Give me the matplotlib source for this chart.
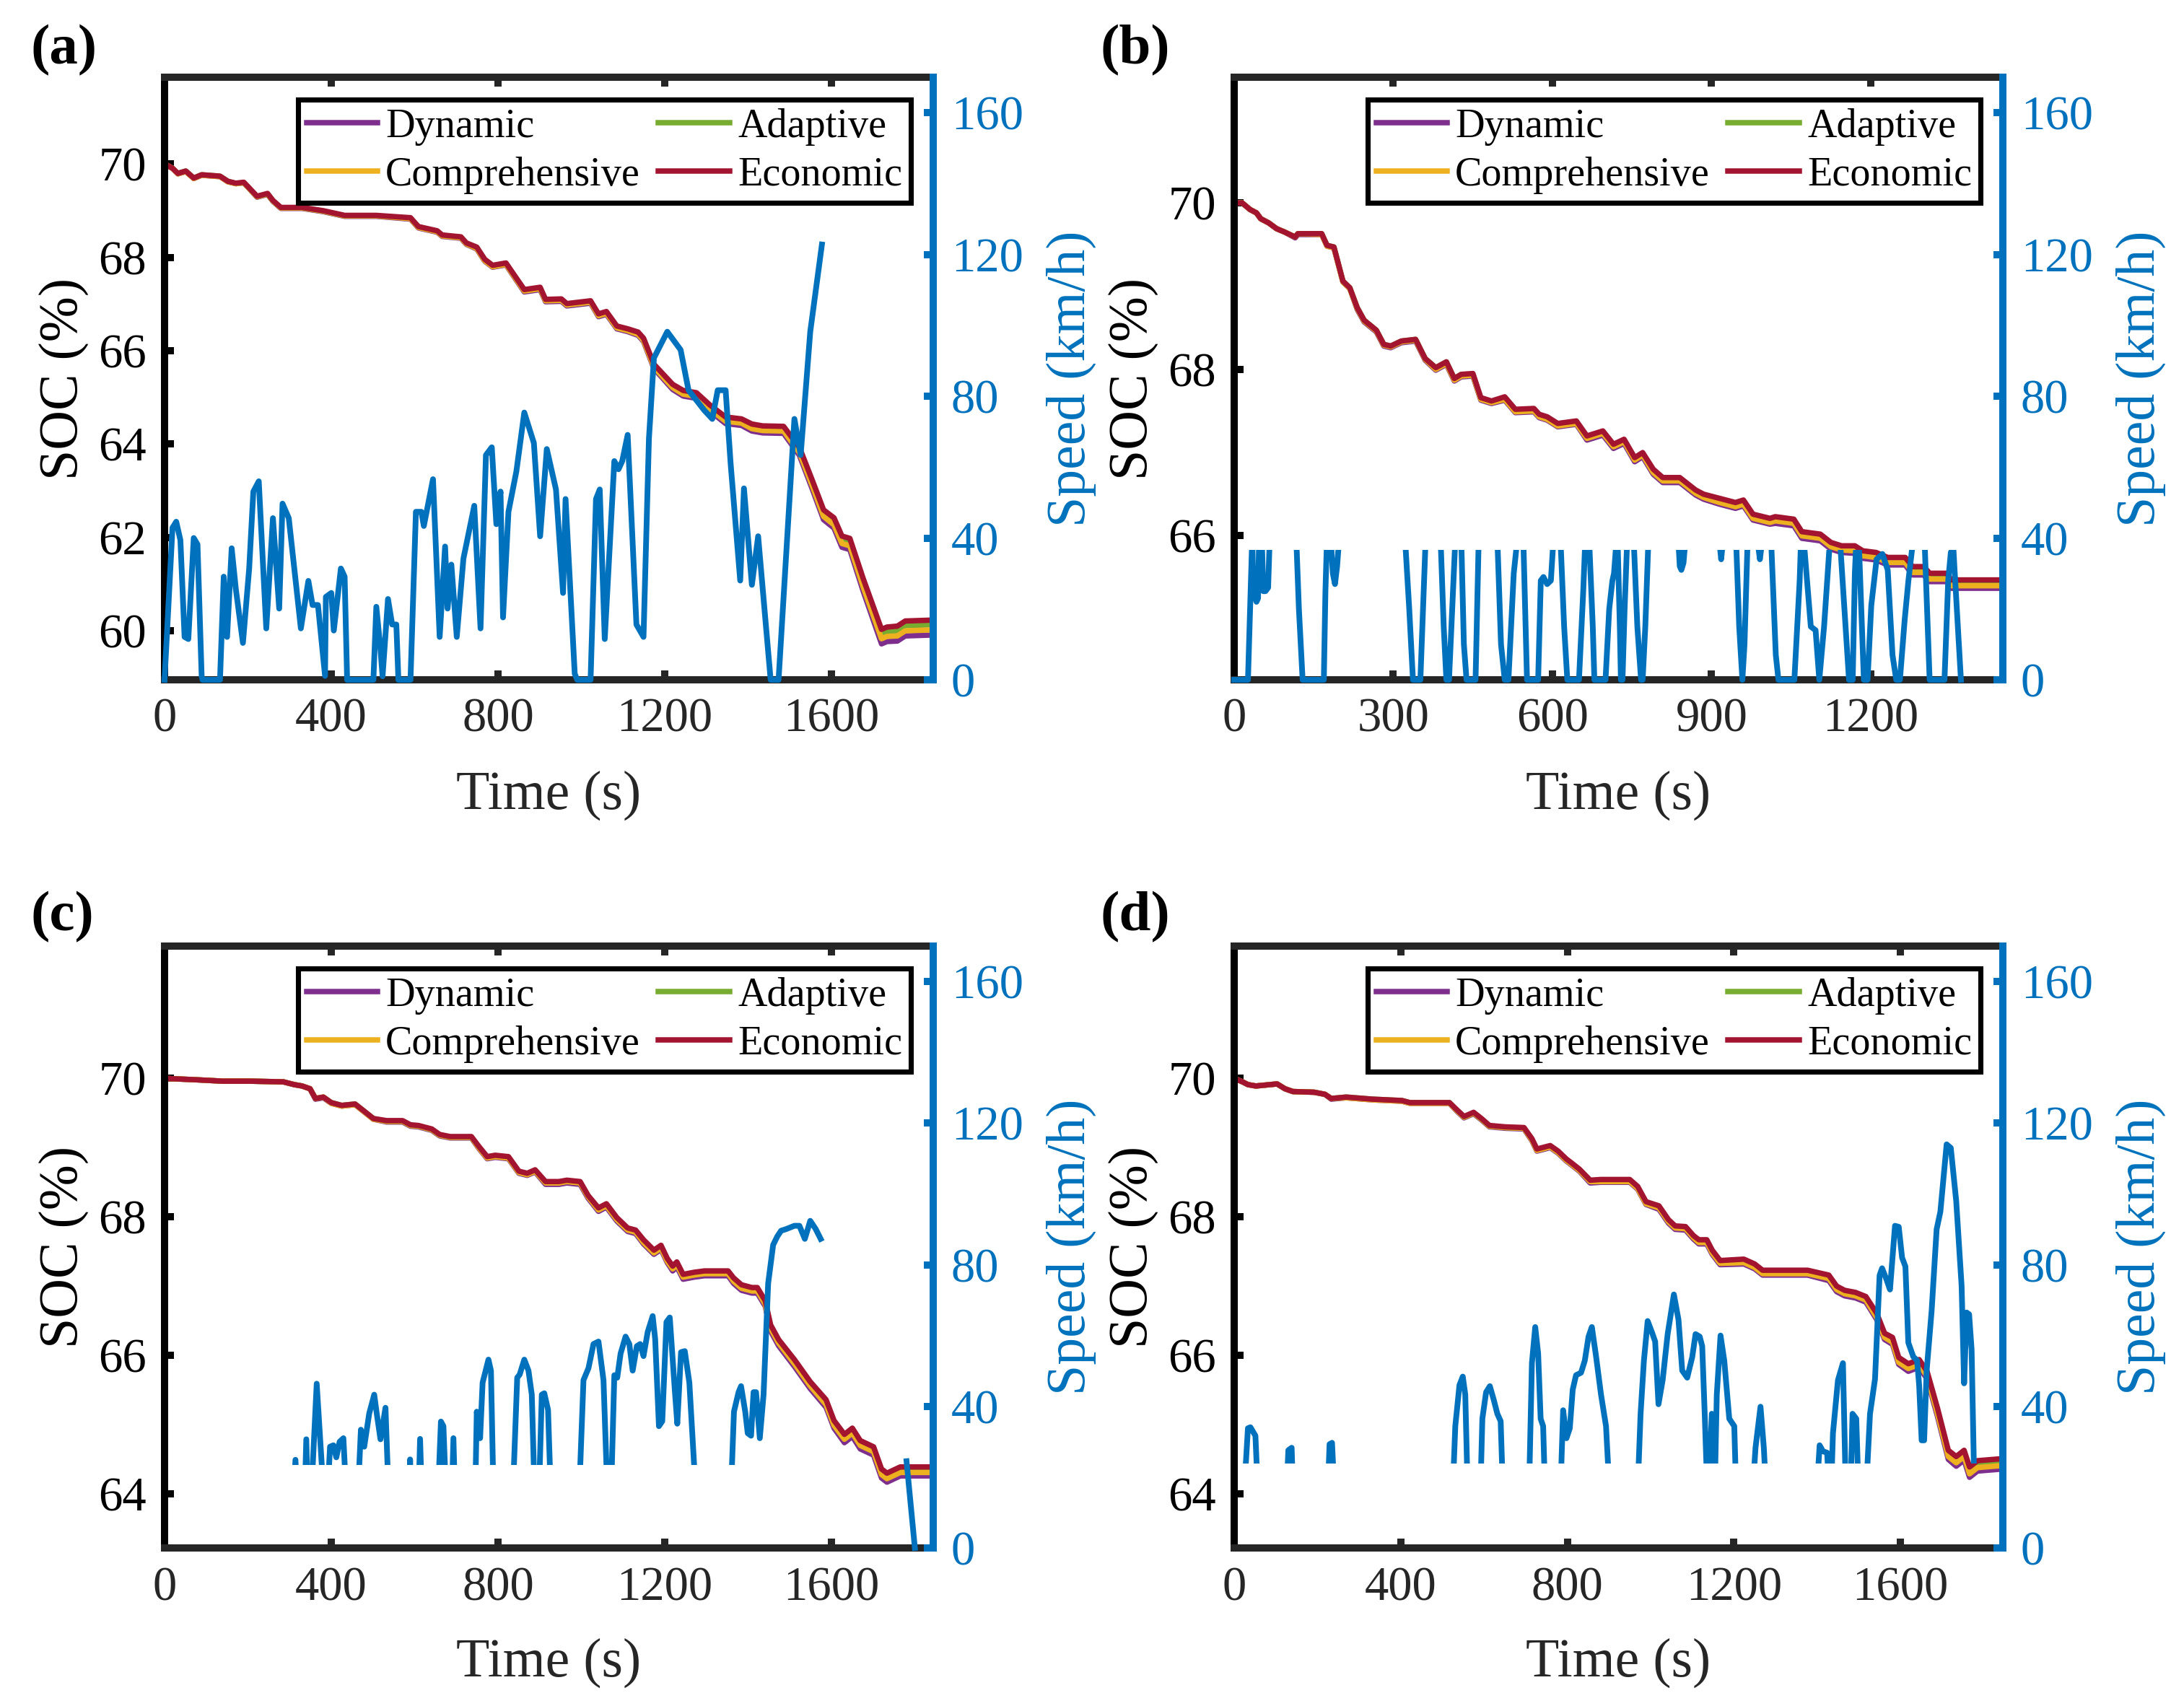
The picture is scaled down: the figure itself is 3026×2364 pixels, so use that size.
import matplotlib.pyplot as plt
from matplotlib.patches import Rectangle

plt.rcParams["font.family"] = ["Liberation Serif", "DejaVu Serif"]

BLUE = "#0072BD"
DARK = "#262626"
SERIES = ["Dynamic", "Adaptive", "Comprehensive", "Economic"]
COLORS = ["#7E2F8E", "#77AC30", "#EDB120", "#A2142F"]

# ---------------- panel (a) ----------------
time_a = [0, 19, 32, 51, 70, 89, 133, 152, 171, 190,
          222, 247, 260, 279, 330, 381, 432, 508, 590, 609,
          654, 666, 711, 724, 749, 768, 787, 819, 863, 901,
          914, 952, 965, 1022, 1041, 1060, 1085, 1111, 1136, 1149,
          1174, 1219, 1244, 1276, 1308, 1346, 1384, 1409, 1435, 1485,
          1523, 1555, 1581, 1606, 1625, 1644, 1676, 1720, 1733, 1758,
          1777, 1844]
econ_a = [70.0, 69.91, 69.80, 69.85, 69.70, 69.77, 69.74, 69.63, 69.59, 69.61,
          69.31, 69.37, 69.22, 69.07, 69.07, 69.0, 68.90, 68.90, 68.85, 68.66,
          68.57, 68.48, 68.44, 68.31, 68.22, 67.96, 67.83, 67.88, 67.31, 67.36,
          67.10, 67.11, 67.01, 67.07, 66.79, 66.84, 66.53, 66.47, 66.40, 66.27,
          65.71, 65.28, 65.15, 65.10, 64.84, 64.58, 64.54, 64.43, 64.39, 64.38,
          63.93, 63.20, 62.59, 62.42, 62.03, 61.98, 61.12, 60.03, 60.08, 60.10,
          60.21, 60.23]
# how far each strategy sits below the Economic curve
gap_dyn_a = [0, 0, 0.01, 0.01, 0.01, 0.01, 0.01, 0.01, 0.01, 0.01,
             0.02, 0.02, 0.02, 0.02, 0.02, 0.02, 0.02, 0.02, 0.03, 0.03,
             0.03, 0.03, 0.03, 0.03, 0.04, 0.04, 0.04, 0.04, 0.05, 0.05,
             0.05, 0.05, 0.05, 0.05, 0.06, 0.06, 0.06, 0.06, 0.07, 0.07,
             0.09, 0.11, 0.12, 0.12, 0.13, 0.14, 0.14, 0.15, 0.15, 0.15,
             0.17, 0.19, 0.21, 0.22, 0.24, 0.24, 0.27, 0.31, 0.31, 0.32,
             0.32, 0.32]
gap_comp_a = [0, 0, 0.01, 0.01, 0.01, 0.01, 0.01, 0.01, 0.01, 0.01,
              0.01, 0.01, 0.01, 0.01, 0.01, 0.01, 0.01, 0.01, 0.02, 0.02,
              0.02, 0.02, 0.02, 0.02, 0.03, 0.03, 0.03, 0.03, 0.03, 0.03,
              0.03, 0.03, 0.03, 0.03, 0.04, 0.04, 0.04, 0.04, 0.05, 0.05,
              0.06, 0.07, 0.08, 0.08, 0.09, 0.09, 0.09, 0.10, 0.10, 0.10,
              0.11, 0.12, 0.14, 0.15, 0.16, 0.16, 0.18, 0.20, 0.20, 0.21,
              0.21, 0.21]
gap_adapt_a = [0, 0, 0, 0, 0, 0, 0, 0, 0.01, 0.01,
               0.01, 0.01, 0.01, 0.01, 0.01, 0.01, 0.01, 0.01, 0.01, 0.01,
               0.01, 0.01, 0.01, 0.01, 0.01, 0.01, 0.01, 0.01, 0.02, 0.02,
               0.02, 0.02, 0.02, 0.02, 0.02, 0.02, 0.02, 0.02, 0.02, 0.02,
               0.03, 0.04, 0.04, 0.04, 0.04, 0.05, 0.05, 0.05, 0.05, 0.05,
               0.06, 0.06, 0.07, 0.07, 0.08, 0.08, 0.09, 0.10, 0.10, 0.10,
               0.10, 0.10]
speed_a = [(0, 0), (19, 42.9), (28, 44.6), (38, 39.4), (48, 12.1), (57, 11.5), (70, 40.0),
           (79, 38.2), (89, 1), (91, 0), (133, 0), (142, 29.1), (150, 12.1), (161, 37.1),
           (171, 25.6), (188, 10.4), (203, 31.4), (213, 53.1), (226, 56.0), (244, 14.5),
           (260, 45.6), (275, 20.1), (283, 49.7), (298, 45.6), (327, 14.5), (345, 27.9),
           (355, 21.1), (368, 21.1), (385, 1.1), (387, 23.4), (400, 24.5), (406, 13.9),
           (423, 31.4), (432, 29.1), (438, 0), (501, 0), (508, 20.6), (518, 8.6), (523, 1),
           (536, 22.8), (546, 15.6), (556, 15.6), (561, 0), (590, 0), (603, 47.4), (616, 47.4),
           (622, 43.4), (644, 56.6), (660, 12.1), (673, 37.6), (679, 20.1), (688, 32.5),
           (701, 12.1), (717, 34.2), (743, 49.1), (758, 14.5), (771, 63.4), (785, 65.6),
           (796, 43.9), (806, 53.1), (812, 17.6), (825, 47.4), (844, 58.8), (863, 75.4),
           (886, 66.8), (901, 40.5), (917, 65.1), (939, 53.7), (956, 24.5), (962, 51.0),
           (984, 1.7), (990, 0), (1022, 0), (1035, 51.0), (1044, 53.7), (1056, 11.5),
           (1079, 61.7), (1089, 59.4), (1098, 61.7), (1111, 69.1), (1132, 15.6), (1149, 12.1),
           (1162, 68.0), (1174, 90.8), (1206, 98.2), (1238, 93.1), (1257, 81.7), (1295, 76.0),
           (1314, 73.6), (1327, 81.7), (1346, 81.7), (1358, 61.0), (1381, 28.0), (1390, 54.0),
           (1409, 26.8), (1424, 40.5), (1445, 12.1), (1454, 0), (1473, 0), (1511, 73.6),
           (1526, 63.4), (1549, 98.2), (1577, 122.8)]

# ---------------- panel (b) ----------------
time_b = [0, 15, 30, 42, 50, 65, 80, 95, 115, 120,
          165, 175, 188, 205, 218, 232, 245, 268, 282, 295,
          315, 342, 360, 380, 400, 415, 428, 450, 465, 485,
          510, 530, 565, 575, 590, 610, 645, 665, 695, 715,
          735, 755, 770, 790, 808, 840, 870, 885, 915, 945,
          960, 978, 1010, 1020, 1055, 1070, 1105, 1125, 1145, 1170,
          1185, 1210, 1232, 1265, 1279, 1300, 1311, 1343, 1352, 1449]
econ_b = [70.0, 70.0, 69.92, 69.88, 69.81, 69.76, 69.69, 69.65, 69.59, 69.63,
          69.63, 69.49, 69.47, 69.06, 68.98, 68.74, 68.59, 68.47, 68.30, 68.28,
          68.34, 68.36, 68.13, 68.02, 68.09, 67.89, 67.94, 67.95, 67.66, 67.62,
          67.67, 67.52, 67.53, 67.46, 67.43, 67.35, 67.38, 67.20, 67.26, 67.10,
          67.16, 66.94, 67.00, 66.80, 66.70, 66.70, 66.55, 66.50, 66.45, 66.40,
          66.43, 66.26, 66.21, 66.23, 66.20, 66.05, 66.02, 65.92, 65.88, 65.88,
          65.82, 65.80, 65.74, 65.74, 65.63, 65.63, 65.55, 65.55, 65.47, 65.47]
gap_dyn_b = [0, 0, 0, 0, 0, 0, 0, 0, 0.01, 0.01,
             0.01, 0.01, 0.01, 0.01, 0.01, 0.02, 0.02, 0.02, 0.02, 0.02,
             0.02, 0.02, 0.02, 0.03, 0.03, 0.03, 0.03, 0.03, 0.03, 0.03,
             0.04, 0.04, 0.04, 0.04, 0.04, 0.04, 0.04, 0.05, 0.05, 0.05,
             0.05, 0.05, 0.05, 0.06, 0.06, 0.06, 0.06, 0.06, 0.07, 0.07,
             0.07, 0.07, 0.07, 0.08, 0.08, 0.08, 0.08, 0.08, 0.08, 0.09,
             0.09, 0.09, 0.09, 0.09, 0.10, 0.10, 0.10, 0.10, 0.10, 0.10]
gap_comp_b = [0, 0, 0, 0, 0, 0, 0, 0, 0, 0,
              0.01, 0.01, 0.01, 0.01, 0.01, 0.01, 0.01, 0.01, 0.01, 0.01,
              0.01, 0.01, 0.01, 0.02, 0.02, 0.02, 0.02, 0.02, 0.02, 0.02,
              0.03, 0.03, 0.03, 0.03, 0.03, 0.03, 0.03, 0.03, 0.03, 0.03,
              0.03, 0.03, 0.03, 0.04, 0.04, 0.04, 0.04, 0.04, 0.05, 0.05,
              0.05, 0.05, 0.05, 0.05, 0.05, 0.05, 0.05, 0.05, 0.05, 0.06,
              0.06, 0.06, 0.06, 0.06, 0.07, 0.07, 0.07, 0.07, 0.07, 0.07]
gap_adapt_b = [0, 0, 0, 0, 0, 0, 0, 0, 0, 0,
               0, 0, 0, 0, 0, 0, 0, 0, 0, 0,
               0, 0, 0, 0, 0, 0, 0, 0.01, 0.01, 0.01,
               0.01, 0.01, 0.01, 0.01, 0.01, 0.01, 0.01, 0.01, 0.01, 0.01,
               0.01, 0.01, 0.01, 0.02, 0.02, 0.02, 0.02, 0.02, 0.02, 0.02,
               0.02, 0.02, 0.02, 0.02, 0.02, 0.02, 0.02, 0.03, 0.03, 0.03,
               0.03, 0.03, 0.03, 0.03, 0.04, 0.04, 0.04, 0.04, 0.04, 0.04]
speed_b = [(0, 0), (26, 0), (31, 25), (34, 40), (36, 27), (38, 24), (42, 22), (45, 23),
           (47, 40), (50, 45), (52, 40), (55, 25), (59, 25), (64, 26), (67, 40), (80, 50),
           (100, 48), (117, 40), (122, 20), (129, 0), (169, 0), (172, 25), (175, 40),
           (182, 40), (186, 30), (190, 27), (194, 32), (198, 40), (230, 80), (245, 91),
           (270, 75), (300, 60), (322, 40), (330, 20), (337, 0), (351, 0), (356, 20),
           (361, 40), (375, 50), (389, 40), (395, 15), (400, 0), (405, 0), (417, 40),
           (422, 45), (428, 40), (433, 10), (438, 0), (455, 0), (461, 40), (480, 50),
           (496, 40), (503, 10), (510, 0), (517, 0), (527, 30), (534, 40), (540, 50),
           (545, 40), (552, 0), (573, 0), (578, 28), (583, 29), (590, 27), (597, 28),
           (602, 40), (610, 45), (615, 40), (622, 15), (628, 0), (650, 0), (658, 25),
           (662, 40), (666, 42), (669, 40), (676, 15), (679, 0), (700, 0), (707, 20),
           (713, 28), (716, 30), (721, 40), (723, 38), (727, 15), (729, 0), (732, 0),
           (736, 20), (741, 40), (748, 45), (753, 40), (760, 15), (767, 0), (770, 0),
           (775, 15), (781, 40), (800, 50), (837, 40), (840, 32), (843, 31), (847, 33),
           (851, 40), (880, 50), (914, 40), (918, 34), (922, 40), (935, 48), (946, 40),
           (952, 15), (958, 0), (962, 10), (968, 40), (980, 45), (986, 40), (991, 34),
           (996, 40), (1005, 45), (1012, 40), (1021, 7), (1026, 0), (1056, 0), (1066, 28),
           (1068, 37), (1072, 40), (1075, 37), (1087, 15), (1096, 14), (1103, 0), (1112, 15),
           (1122, 37), (1130, 45), (1143, 37), (1159, 0), (1166, 0), (1170, 30), (1173, 40),
           (1176, 40), (1178, 37), (1187, 0), (1194, 0), (1201, 21), (1211, 34), (1222, 35.5),
           (1232, 31), (1241, 7), (1248, 0), (1255, 0), (1264, 17), (1271, 28), (1278, 37),
           (1290, 45), (1302, 37), (1311, 0), (1339, 0), (1346, 28), (1351, 36), (1356, 36.5),
           (1358, 31), (1370, 0)]

# ---------------- panel (c) ----------------
time_c = [0, 76, 139, 203, 285, 311, 330, 349, 362, 381,
          400, 425, 457, 476, 501, 533, 571, 590, 609, 641,
          660, 685, 736, 755, 774, 793, 825, 850, 870, 889,
          914, 946, 965, 997, 1016, 1041, 1060, 1085, 1111, 1130,
          1149, 1174, 1191, 1206, 1219, 1229, 1244, 1270, 1295, 1352,
          1365, 1384, 1409, 1422, 1441, 1454, 1473, 1511, 1549, 1587,
          1606, 1631, 1650, 1669, 1701, 1720, 1733, 1765, 1777, 1844]
econ_c = [70.0, 69.98, 69.96, 69.96, 69.95, 69.91, 69.89, 69.85, 69.71, 69.73,
          69.65, 69.61, 69.63, 69.54, 69.42, 69.39, 69.39, 69.33, 69.32, 69.27,
          69.19, 69.16, 69.16, 69.01, 68.87, 68.89, 68.87, 68.66, 68.63, 68.68,
          68.51, 68.51, 68.53, 68.51, 68.31, 68.13, 68.19, 67.99, 67.84, 67.81,
          67.67, 67.52, 67.59, 67.40, 67.29, 67.35, 67.17, 67.20, 67.22, 67.22,
          67.12, 67.02, 66.98, 66.98, 66.79, 66.44, 66.23, 65.94, 65.62, 65.36,
          65.06, 64.86, 64.95, 64.77, 64.68, 64.36, 64.30, 64.39, 64.39, 64.39]
gap_dyn_c = [0, 0, 0, 0, 0, 0, 0, 0, 0.01, 0.01,
             0.01, 0.01, 0.01, 0.01, 0.01, 0.02, 0.02, 0.02, 0.02, 0.02,
             0.02, 0.02, 0.02, 0.03, 0.03, 0.03, 0.03, 0.03, 0.03, 0.03,
             0.04, 0.04, 0.04, 0.04, 0.04, 0.05, 0.05, 0.05, 0.05, 0.05,
             0.06, 0.06, 0.06, 0.06, 0.07, 0.07, 0.07, 0.07, 0.07, 0.07,
             0.08, 0.08, 0.08, 0.08, 0.08, 0.09, 0.09, 0.10, 0.10, 0.11,
             0.11, 0.12, 0.12, 0.12, 0.12, 0.13, 0.13, 0.13, 0.13, 0.13]
gap_comp_c = [0, 0, 0, 0, 0, 0, 0, 0, 0, 0,
              0.01, 0.01, 0.01, 0.01, 0.01, 0.01, 0.01, 0.01, 0.01, 0.01,
              0.01, 0.01, 0.01, 0.02, 0.02, 0.02, 0.02, 0.02, 0.02, 0.02,
              0.02, 0.02, 0.02, 0.02, 0.02, 0.03, 0.03, 0.03, 0.03, 0.03,
              0.04, 0.04, 0.04, 0.04, 0.04, 0.04, 0.04, 0.04, 0.04, 0.04,
              0.05, 0.05, 0.05, 0.05, 0.05, 0.05, 0.05, 0.06, 0.06, 0.07,
              0.07, 0.07, 0.07, 0.07, 0.07, 0.08, 0.08, 0.08, 0.08, 0.08]
gap_adapt_c = [0, 0, 0, 0, 0, 0, 0, 0, 0, 0,
               0, 0, 0, 0, 0, 0.01, 0.01, 0.01, 0.01, 0.01,
               0.01, 0.01, 0.01, 0.01, 0.01, 0.01, 0.01, 0.01, 0.01, 0.01,
               0.01, 0.01, 0.01, 0.01, 0.01, 0.02, 0.02, 0.02, 0.02, 0.02,
               0.02, 0.02, 0.02, 0.02, 0.02, 0.02, 0.02, 0.02, 0.02, 0.02,
               0.03, 0.03, 0.03, 0.03, 0.03, 0.03, 0.03, 0.03, 0.03, 0.04,
               0.04, 0.04, 0.04, 0.04, 0.04, 0.05, 0.05, 0.05, 0.05, 0.05]
speed_c = [(0, 0), (303, 0), (314, 24.9), (325, 0), (333, 0), (340, 30.7), (347, 0),
           (350, 10), (365, 46.4), (379, 20), (385, 0), (391, 15), (397, 28.6), (405, 29),
           (412, 25.6), (420, 30), (429, 31), (438, 10), (462, 10), (471, 33.4), (479, 28.6),
           (491, 38), (503, 43.3), (509, 38), (518, 30.7), (530, 39.6), (539, 10), (586, 0),
           (589, 25), (595, 0), (606, 0), (613, 30.8), (621, 0), (651, 0), (663, 35.7),
           (669, 34.4), (680, 0), (686, 0), (693, 31), (700, 0), (743, 0), (749, 38.5),
           (757, 31), (763, 46.7), (777, 53.2), (783, 50.1), (790, 10), (834, 10), (846, 48.1),
           (852, 49), (863, 53.2), (873, 50.1), (881, 43.3), (889, 10), (897, 10), (905, 43.3),
           (911, 43.7), (920, 39), (928, 10), (993, 10), (1005, 47.4), (1017, 50.8),
           (1029, 57.6), (1041, 58.3), (1053, 47.4), (1064, 10), (1070, 10), (1079, 48.8),
           (1086, 48.1), (1094, 54.9), (1106, 59.7), (1115, 57.6), (1123, 50.1), (1133, 57),
           (1141, 57.6), (1149, 54.2), (1159, 61), (1171, 65.5), (1177, 59), (1186, 34.4),
           (1194, 35.8), (1204, 63.8), (1212, 65.1), (1224, 44.7), (1230, 35.1), (1239, 55.3),
           (1248, 55.6), (1259, 46.7), (1277, 10), (1357, 10), (1366, 38.5), (1377, 44),
           (1383, 45.7), (1393, 38.5), (1399, 32.4), (1407, 31.7), (1413, 44), (1419, 44),
           (1428, 31), (1437, 43.3), (1448, 74.7), (1460, 85.6), (1470, 88), (1479, 89.6),
           (1492, 90.1), (1511, 91), (1523, 91), (1536, 87.3), (1549, 92.4), (1562, 90.1),
           (1574, 87.3)]
speed_tail_c = [(1780, 24.5), (1800, 0)]

# ---------------- panel (d) ----------------
time_d = [0, 20, 33, 52, 103, 122, 141, 192, 218, 233,
          269, 332, 403, 422, 517, 536, 552, 575, 594, 613,
          651, 696, 715, 727, 759, 778, 797, 810, 829, 855,
          880, 950, 969, 989, 1020, 1043, 1059, 1084, 1103, 1116,
          1135, 1148, 1167, 1224, 1250, 1269, 1377, 1428, 1447, 1466,
          1492, 1517, 1543, 1562, 1581, 1596, 1619, 1645, 1664, 1689,
          1715, 1734, 1753, 1766, 1785, 1846]
econ_d = [70.0, 69.95, 69.91, 69.89, 69.92, 69.85, 69.81, 69.80, 69.77, 69.71,
          69.73, 69.70, 69.68, 69.65, 69.65, 69.54, 69.45, 69.51, 69.42, 69.32,
          69.30, 69.29, 69.13, 68.98, 69.03, 68.95, 68.84, 68.78, 68.69, 68.53,
          68.54, 68.54, 68.44, 68.22, 68.16, 67.96, 67.87, 67.86, 67.73, 67.67,
          67.67, 67.52, 67.37, 67.39, 67.32, 67.23, 67.23, 67.16, 67.00, 66.94,
          66.91, 66.85, 66.61, 66.32, 66.26, 65.97, 65.88, 65.94, 65.77, 65.24,
          64.63, 64.54, 64.63, 64.39, 64.48, 64.51]
gap_dyn_d = [0, 0, 0, 0, 0, 0, 0, 0, 0, 0.01,
             0.01, 0.01, 0.01, 0.01, 0.01, 0.02, 0.02, 0.02, 0.02, 0.02,
             0.02, 0.02, 0.03, 0.03, 0.03, 0.03, 0.03, 0.03, 0.03, 0.04,
             0.04, 0.04, 0.04, 0.04, 0.05, 0.05, 0.05, 0.05, 0.05, 0.06,
             0.06, 0.06, 0.06, 0.07, 0.07, 0.07, 0.07, 0.08, 0.08, 0.08,
             0.08, 0.08, 0.09, 0.09, 0.10, 0.10, 0.11, 0.11, 0.11, 0.12,
             0.13, 0.14, 0.14, 0.15, 0.15, 0.15]
gap_comp_d = [0, 0, 0, 0, 0, 0, 0, 0, 0, 0,
              0.01, 0.01, 0.01, 0.01, 0.01, 0.01, 0.01, 0.01, 0.01, 0.01,
              0.01, 0.01, 0.02, 0.02, 0.02, 0.02, 0.02, 0.02, 0.02, 0.02,
              0.03, 0.03, 0.03, 0.03, 0.03, 0.03, 0.03, 0.03, 0.03, 0.04,
              0.04, 0.04, 0.04, 0.05, 0.05, 0.05, 0.05, 0.05, 0.05, 0.05,
              0.05, 0.05, 0.06, 0.06, 0.07, 0.07, 0.07, 0.07, 0.07, 0.08,
              0.09, 0.09, 0.09, 0.10, 0.10, 0.10]
gap_adapt_d = [0, 0, 0, 0, 0, 0, 0, 0, 0, 0,
               0, 0, 0, 0, 0, 0.01, 0.01, 0.01, 0.01, 0.01,
               0.01, 0.01, 0.01, 0.01, 0.01, 0.01, 0.01, 0.01, 0.01, 0.01,
               0.01, 0.01, 0.01, 0.01, 0.02, 0.02, 0.02, 0.02, 0.02, 0.02,
               0.02, 0.02, 0.02, 0.02, 0.02, 0.02, 0.02, 0.03, 0.03, 0.03,
               0.03, 0.03, 0.03, 0.03, 0.03, 0.03, 0.04, 0.04, 0.04, 0.04,
               0.04, 0.05, 0.05, 0.05, 0.05, 0.05]
speed_d = [(0, 10), (21, 10), (33, 33.8), (39, 34.1), (51, 31.7), (59, 10), (124, 10),
           (130, 27.6), (138, 28.3), (143, 10), (223, 10), (229, 29.3), (235, 29.7), (243, 10),
           (523, 10), (531, 34.4), (541, 46), (549, 48.4), (555, 43.3), (562, 10), (590, 10),
           (596, 36.5), (605, 44), (614, 45.7), (623, 42), (632, 37.9), (640, 35.8), (647, 10),
           (707, 10), (715, 52.2), (723, 62.4), (730, 54.9), (736, 36.5), (742, 34.4), (748, 10),
           (782, 10), (790, 38.9), (798, 31), (806, 33.8), (813, 44.7), (821, 48.8), (833, 49.5),
           (842, 52.9), (851, 59.7), (859, 62.4), (869, 54.2), (881, 43.3), (893, 34.4),
           (904, 10), (967, 10), (976, 37.9), (984, 52.9), (993, 64.1), (1003, 61),
           (1011, 58.3), (1019, 40.6), (1029, 47.4), (1041, 60.4), (1056, 71.6), (1067, 64.5),
           (1076, 50.1), (1088, 48.1), (1100, 53.9), (1108, 60.4), (1118, 59.7), (1124, 57),
           (1130, 37.9), (1138, 10), (1147, 37.9), (1153, 10), (1159, 43.3), (1168, 60),
           (1177, 52.9), (1189, 36.5), (1201, 34.4), (1207, 10), (1242, 10), (1252, 28.3),
           (1264, 39.9), (1272, 28.3), (1280, 10), (1396, 10), (1406, 29), (1414, 27.3),
           (1424, 26.9), (1432, 10), (1438, 32.4), (1450, 47.4), (1462, 52.2), (1470, 10),
           (1479, 10), (1485, 37.9), (1494, 36.5), (1501, 10), (1515, 10), (1527, 37.9),
           (1539, 47.7), (1550, 77), (1556, 79), (1566, 76), (1575, 73), (1587, 91),
           (1596, 90.7), (1604, 82), (1612, 79.5), (1619, 58), (1631, 54), (1640, 53),
           (1645, 46), (1651, 30.4), (1657, 30.4), (1663, 50), (1675, 67), (1687, 90),
           (1696, 95), (1711, 114), (1721, 113), (1734, 98), (1747, 74), (1753, 46.5),
           (1759, 66.5), (1765, 66), (1771, 56), (1777, 20), (1780, 10)]

soc_ticks_a = [60, 62, 64, 66, 68, 70]
soc_ticks_b = [66, 68, 70]
soc_ticks_cd = [64, 66, 68, 70]
time_ticks_acd = [0, 400, 800, 1200, 1600]
time_ticks_b = [0, 300, 600, 900, 1200]
speed_ticks = [0, 40, 80, 120, 160]

# legend reads row by row: Dynamic, Adaptive / Comprehensive, Economic
LEGEND_ORDER = ["Dynamic", "Comprehensive", "Adaptive", "Economic"]

W, H = 3026, 2364
SOC_LW = 1.8
SPEED_LW = 1.9


def frac_rect(left, top, right, bottom):
    return [left / W, 1 - bottom / H, (right - left) / W, (bottom - top) / H]


def draw_panel(fig, rect, p):
    ax = fig.add_axes(rect)
    ax2 = ax.twinx()

    socs = [
        [e - g for e, g in zip(p["econ"], p["gap_dyn"])],
        [e - g for e, g in zip(p["econ"], p["gap_adapt"])],
        [e - g for e, g in zip(p["econ"], p["gap_comp"])],
        p["econ"],
    ]
    lines = {}
    for name, color, soc in zip(SERIES, COLORS, socs):
        (h,) = ax.plot(p["time"], soc, color=color, lw=SOC_LW, label=name)
        lines[name] = h

    st, sv = zip(*p["speed"])
    (sp,) = ax2.plot(st, sv, color=BLUE, lw=SPEED_LW)
    lo, hi = p["clip"]
    sp.set_clip_path(Rectangle((-100, lo), 3000, hi - lo, transform=ax2.transData))
    if p.get("tail"):
        tt, tv = zip(*p["tail"])
        (tl,) = ax2.plot(tt, tv, color=BLUE, lw=SPEED_LW)
        tl.set_clip_path(Rectangle((-100, -10), 3000, 200, transform=ax2.transData))

    ax.set_xlim(0, p["xmax"])
    ax.set_ylim(*p["ylim"])
    ax2.set_ylim(0, 170)
    ax.set_xticks(p["xticks"])
    ax.set_yticks(p["yticks"])
    ax2.set_yticks(speed_ticks)

    for side in ["top", "bottom"]:
        ax.spines[side].set_color(DARK)
        ax.spines[side].set_linewidth(2.4)
    ax.spines["left"].set_color("black")
    ax.spines["left"].set_linewidth(2.4)
    ax.spines["right"].set_visible(False)
    for side in ["top", "bottom", "left"]:
        ax2.spines[side].set_visible(False)
    ax2.spines["right"].set_color(BLUE)
    ax2.spines["right"].set_linewidth(2.4)

    ax.tick_params(axis="x", direction="in", top=True, bottom=True, length=3.2, width=2.4,
                   color=DARK, labelcolor=DARK, labelsize=16, pad=6)
    ax.tick_params(axis="y", direction="in", left=True, right=False, length=3.2, width=2.4,
                   color="black", labelcolor="black", labelsize=16, pad=6)
    ax2.tick_params(axis="y", direction="in", length=3.2, width=2.4,
                    color=BLUE, labelcolor=BLUE, labelsize=16, pad=6)

    ax.set_xlabel("Time (s)", fontsize=18.2, color=DARK)
    ax.set_ylabel("SOC (%)", fontsize=18.2, color="black")
    ax2.set_ylabel("Speed (km/h)", fontsize=18.2, color=BLUE)
    ax.xaxis.set_label_coords(0.5, -0.15)
    ax.yaxis.set_label_coords(-0.099, 0.5)
    ax2.yaxis.set_label_coords(1.147, 0.5)

    leg = ax2.legend([lines[n] for n in LEGEND_ORDER], LEGEND_ORDER, ncol=2,
                     loc="upper right", fontsize=13.5, frameon=True, fancybox=False,
                     framealpha=1, edgecolor="black", borderaxespad=0.55, borderpad=0.21,
                     handlelength=1.75, handletextpad=0.2, columnspacing=0.45,
                     labelspacing=0.27)
    leg.get_frame().set_linewidth(1.7)
    for h in leg.legend_handles:
        h.set_linewidth(SOC_LW)
    return ax, ax2


panels = [
    dict(label="(a)", rect=frac_rect(228, 107, 1293, 942), time=time_a, econ=econ_a,
         gap_dyn=gap_dyn_a, gap_comp=gap_comp_a, gap_adapt=gap_adapt_a, speed=speed_a,
         clip=(-10, 180), xmax=1844, xticks=time_ticks_acd, ylim=(58.95, 71.86),
         yticks=soc_ticks_a, pos=(43, 70)),
    dict(label="(b)", rect=frac_rect(1710, 107, 2775, 942), time=time_b, econ=econ_b,
         gap_dyn=gap_dyn_b, gap_comp=gap_comp_b, gap_adapt=gap_adapt_b, speed=speed_b,
         clip=(-10, 36.6), xmax=1449, xticks=time_ticks_b, ylim=(64.27, 71.51),
         yticks=soc_ticks_b, pos=(1525, 70)),
    dict(label="(c)", rect=frac_rect(228, 1311, 1293, 2145), time=time_c, econ=econ_c,
         gap_dyn=gap_dyn_c, gap_comp=gap_comp_c, gap_adapt=gap_adapt_c, speed=speed_c,
         tail=speed_tail_c, clip=(23.5, 180), xmax=1844, xticks=time_ticks_acd,
         ylim=(63.22, 71.91), yticks=soc_ticks_cd, pos=(43, 1271)),
    dict(label="(d)", rect=frac_rect(1710, 1311, 2775, 2145), time=time_d, econ=econ_d,
         gap_dyn=gap_dyn_d, gap_comp=gap_comp_d, gap_adapt=gap_adapt_d, speed=speed_d,
         clip=(23.9, 180), xmax=1846, xticks=time_ticks_acd, ylim=(63.22, 71.91),
         yticks=soc_ticks_cd, pos=(1525, 1271)),
]

fig = plt.figure(figsize=(W / 300, H / 300), dpi=300)
fig.patch.set_facecolor("white")
for p in panels:
    draw_panel(fig, p["rect"], p)
    x, y = p["pos"]
    fig.text(x / W, 1 - y / H, p["label"], fontsize=19, fontweight="bold",
             ha="left", va="center")

fig.savefig("out.png", dpi=300, facecolor="white")
